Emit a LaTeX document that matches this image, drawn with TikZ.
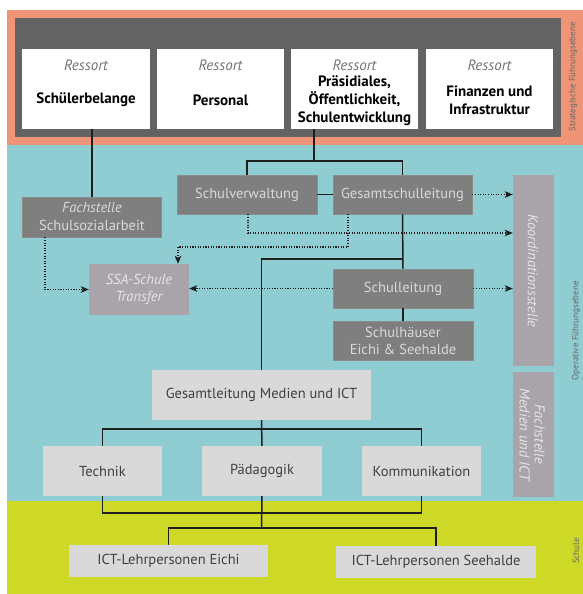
\documentclass[tikz,border=0pt]{standalone}
\usepackage{fontspec}
\setmainfont{PT Sans}
\usetikzlibrary{arrows.meta}
\definecolor{salmon}{HTML}{EF9477}
\definecolor{darkbg}{HTML}{636363}
\definecolor{teal}{HTML}{8FCDD3}
\definecolor{lime}{HTML}{CDD827}
\definecolor{boxgray}{HTML}{7F7F7F}
\definecolor{boxgrayline}{HTML}{8C8C8C}
\definecolor{mauve}{HTML}{A8A4A9}
\definecolor{lightbox}{HTML}{D9D9D9}
\definecolor{linecol}{HTML}{1E1E1E}
\tikzset{
  anybox/.style={inner sep=0pt, align=center, font=\fontsize{14.5}{18}\selectfont},
  darkbox/.style={anybox, fill=boxgray, draw=boxgrayline, line width=0.6pt, text=white!85!black},
  mauvebox/.style={anybox, fill=mauve, text=white!90!black, font=\fontsize{14.5}{16.5}\selectfont\itshape},
  lightbox/.style={anybox, fill=lightbox, text=black!75},
  ressortbox/.style={anybox, fill=white},
  ressortlabel/.style={inner sep=0pt, text=black!55, font=\fontsize{15}{18}\selectfont\itshape},
  ressortname/.style={inner sep=0pt, align=center, text=black, font=\fontsize{15}{18}\selectfont\bfseries},
  sidelabel/.style={inner sep=0pt, rotate=90, text=black!60, font=\fontsize{9}{10}\selectfont},
  conn/.style={draw=linecol, line width=1.5pt},
  dotarrow/.style={draw=linecol, line width=1.1pt, dash pattern=on 1.1pt off 1.5pt, -{Stealth[length=8pt,width=6.5pt,inset=2pt]}},
}
\begin{document}
\begin{tikzpicture}[x=1pt,y=-1pt]
\useasboundingbox (0,0) rectangle (583,594);
% backgrounds
\fill[white] (0,0) rectangle (583,594);
\fill[salmon] (7,10) rectangle (583,145);
\fill[darkbg] (15,18) rectangle (561,137);
\fill[teal] (7,145) rectangle (583,501);
\fill[lime] (7,501) rectangle (583,594);
% side labels
\node[sidelabel] (lblstrat) at (573,77) {Strategische Führungsebene};
\node[sidelabel] (lblop) at (576,331) {Operative Führungsebene};
\node[sidelabel] (lblschule) at (576,551) {Schule};
% ressort boxes
\node[ressortbox, minimum width=128, minimum height=80] (r1) at (86,89) {};
\node[ressortbox, minimum width=127, minimum height=80] (r2) at (220.5,89) {};
\node[ressortbox, minimum width=127, minimum height=80] (r3) at (354.5,89) {};
\node[ressortbox, minimum width=127, minimum height=80] (r4) at (489.5,89) {};
\node[ressortlabel] (r1l) at (86,65) {Ressort};
\node[ressortlabel] (r2l) at (220.5,65) {Ressort};
\node[ressortlabel] (r3l) at (354.5,65) {Ressort};
\node[ressortlabel] (r4l) at (489.5,65) {Ressort};
\node[ressortname] (r1n) at (86,100) {Schülerbelange};
\node[ressortname] (r2n) at (220.5,100) {Personal};
\node[ressortname] (r3n) at (354.5,100.5) {Präsidiales,\\Öffentlichkeit,\\Schulentwicklung};
\node[ressortname] (r4n) at (489.5,100) {Finanzen und\\Infrastruktur};
% operative boxes
\node[darkbox, minimum width=139, minimum height=40] (fss) at (92,217) {\textit{Fachstelle}\\Schulsozialarbeit};
\node[darkbox, minimum width=140, minimum height=39] (sv) at (247,194.5) {Schulverwaltung};
\node[darkbox, minimum width=139, minimum height=39] (gsl) at (402.5,194.5) {Gesamtschulleitung};
\node[mauvebox, minimum width=100, minimum height=51] (ssa) at (139,289.5) {SSA-Schule\\Transfer};
\node[darkbox, minimum width=140, minimum height=39] (sl) at (403,288.5) {Schulleitung};
\node[darkbox, minimum width=140, minimum height=39, font=\fontsize{14.5}{17}\selectfont] (sh) at (403,340.5) {Schulhäuser\\Eichi \& Seehalde};
\node[mauvebox, minimum width=41, minimum height=191] (koord) at (533.5,270.5) {};
\node[inner sep=0pt, rotate=-90, text=white!90!black, font=\fontsize{14.5}{16}\selectfont\itshape] (koordt) at (533,271) {Koordinationsstelle};
\node[mauvebox, minimum width=41, minimum height=125] (fmi) at (533.5,434.5) {};
\node[inner sep=0pt, rotate=-90, align=center, text=white!90!black, font=\fontsize{14.5}{15}\selectfont\itshape] (fmit) at (532,434.5) {Fachstelle\\Medien und ICT};
\node[lightbox, minimum width=219, minimum height=50] (gmi) at (261.5,395) {Gesamtleitung Medien und ICT};
\node[lightbox, minimum width=119, minimum height=50] (tech) at (102.5,471) {Technik};
\node[lightbox, minimum width=120, minimum height=50] (paed) at (262,471) {Pädagogik};
\node[lightbox, minimum width=119, minimum height=50] (komm) at (421.5,471) {Kommunikation};
\node[lightbox, minimum width=199, minimum height=32] (icte) at (168.5,561) {ICT-Lehrpersonen Eichi};
\node[lightbox, minimum width=200, minimum height=32] (icts) at (436,562) {ICT-Lehrpersonen Seehalde};
% helper coordinates
\coordinate (j1) at (314,161);
\coordinate (j2) at (261.5,259);
\coordinate (g1) at (348,247);
\coordinate (s1) at (248,233);
\coordinate (m1) at (261.5,429);
\coordinate (m2) at (261.5,513);
\coordinate (m3) at (261.5,528);
% solid connectors
\draw[conn] (fss.north |- r1.south) -- (fss.north);
\draw[conn] (j1 |- r3.south) -- (j1);
\draw[conn] (sv.north) |- (j1) -| (gsl.north);
\draw[conn] (sv.east) -- (gsl.west);
\draw[conn] (gsl.south) -- (sl.north);
\draw[conn] (gmi.north) |- (gsl.south |- j2);
\draw[conn] (sl.south) -- (sh.north);
\draw[conn] (gmi.south) -- (paed.north);
\draw[conn] (tech.north) |- (m1) -| (komm.north);
\draw[conn] (tech.south) |- (m2) -| (komm.south);
\draw[conn] (paed.south) -- (m3);
\draw[conn] (icte.north) |- (m3) -| (icts.north);
% dotted connectors
\draw[dotarrow] (gsl.east) -- (gsl.east -| koord.west);
\draw[dotarrow] (sv.south -| s1) |- (s1 -| koord.west);
\draw[dotarrow] (gsl.south -| g1) -- (g1) -| (ssa.north -| 178,0);
\draw[dotarrow] (fss.south -| 45,0) |- (ssa.west);
\draw[dotarrow] (sl.west) -- (sl.west -| ssa.east);
\draw[dotarrow] (sl.east) -- (sl.east -| koord.west);
\end{tikzpicture}
\end{document}
